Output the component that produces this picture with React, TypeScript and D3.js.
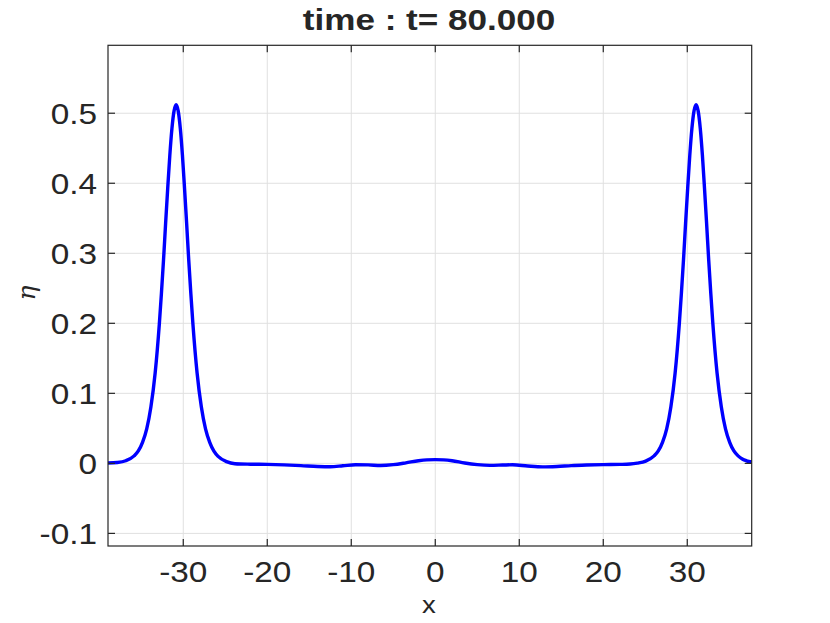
import React from "react";
import * as d3 from "d3";

const xTicks = [-30, -20, -10, 0, 10, 20, 30];
const yTicks = [-0.1, 0, 0.1, 0.2, 0.3, 0.4, 0.5];
const yTickLabels = ["-0.1", "0", "0.1", "0.2", "0.3", "0.4", "0.5"];
const xDomain = [-38.96, 37.67];
const yDomain = [-0.118, 0.597];

const xs = [
  -38.96, -37.85, -36.85, -35.85, -35.35, -34.85, -34.35, -33.85, -33.35, -32.85,
  -32.6, -32.35, -32.1, -31.85, -31.6, -31.35, -31.1, -30.85, -30.6, -30.35,
  -30.1, -29.85, -29.6, -29.35, -29.1, -28.85, -28.35, -27.85, -27.35, -26.85,
  -26.35, -25.85, -24.85, -23.85,
  -22, -20, -18, -16, -14, -12.5, -11, -9.5, -8, -6.5, -5, -3.5, -2, -1, 0, 1, 2,
  3.5, 5, 6.5, 8, 9.2, 11, 12.8, 14.5, 16.2, 18, 20, 22, 23.2,
  24.05, 25.05, 26.05, 26.55, 27.05, 27.55, 28.05, 28.55, 29.05, 29.3, 29.55,
  29.8, 30.05, 30.3, 30.55, 30.8, 31.05, 31.3, 31.55, 31.8, 32.05, 32.3, 32.55,
  32.8, 33.05, 33.55, 34.05, 34.55, 35.05, 35.55, 36.05, 36.55, 37.05, 37.67,
];
const eta = [
  0.0006, 0.0013, 0.0037, 0.0107, 0.0178, 0.0301, 0.0494, 0.0809, 0.1287, 0.199,
  0.2426, 0.2905, 0.343, 0.393, 0.44, 0.478, 0.503, 0.512, 0.503, 0.478,
  0.44, 0.393, 0.343, 0.2905, 0.2426, 0.199, 0.1287, 0.0809, 0.0494, 0.0301,
  0.0175, 0.01, 0.0025, -0.0005,
  -0.0012, -0.0015, -0.0022, -0.0032, -0.0044, -0.0048, -0.0035, -0.002, -0.0022,
  -0.003, -0.0018, 0.0008, 0.0038, 0.005, 0.0053, 0.005, 0.0038,
  0.0005, -0.0018, -0.0028, -0.0024, -0.002, -0.0038, -0.005, -0.0044, -0.0032,
  -0.0024, -0.0018, -0.0015, -0.001,
  0.0003, 0.0032, 0.0107, 0.0178, 0.0301, 0.0494, 0.0809, 0.1287, 0.199, 0.2426,
  0.2905, 0.343, 0.393, 0.44, 0.478, 0.503, 0.512, 0.503, 0.478, 0.44, 0.393,
  0.343, 0.2905, 0.2426, 0.199, 0.1287, 0.0809, 0.0494, 0.0301, 0.0178, 0.0107,
  0.0062, 0.0037, 0.0019,
];

const W = 830;
const H = 623;
const L = 108;
const R = 751.7;
const T = 45.3;
const B = 546;
const axisColor = "#262626";
const gridColor = "#e0e0e0";
const font = "'Liberation Sans', Arial, Helvetica, sans-serif";

export default function App() {
  const x = d3.scaleLinear().domain(xDomain).range([L, R]);
  const y = d3.scaleLinear().domain(yDomain).range([B, T]);
  const pts: [number, number][] = xs.map((v, i) => [v, eta[i]]);
  const line = d3
    .line<[number, number]>()
    .x((d) => x(d[0]))
    .y((d) => y(d[1]))
    .curve(d3.curveMonotoneX);
  const tickLen = 7;

  const Txt = ({ tx, ty, anchor, size, weight, children, sx }: any) => (
    <g transform={`translate(${tx},${ty}) scale(${sx || 1.15},1)`}>
      <text
        textAnchor={anchor}
        fontSize={size}
        fontWeight={weight || "normal"}
        fontFamily={font}
        fill={axisColor}
      >
        {children}
      </text>
    </g>
  );

  return (
    <svg
      width={W}
      height={H}
      style={{ position: "absolute", left: 0, top: 0, background: "#fff" }}
    >
      <rect x={0} y={0} width={W} height={H} fill="#fff" />
      {xTicks.map((t) => (
        <line key={"gx" + t} x1={x(t)} x2={x(t)} y1={T} y2={B} stroke={gridColor} strokeWidth={1} />
      ))}
      {yTicks.map((t) => (
        <line key={"gy" + t} x1={L} x2={R} y1={y(t)} y2={y(t)} stroke={gridColor} strokeWidth={1} />
      ))}
      <path d={line(pts) || ""} fill="none" stroke="#0000ff" strokeWidth={3.4} strokeLinejoin="round" />
      <rect x={L} y={T} width={R - L} height={B - T} fill="none" stroke={axisColor} strokeWidth={1.2} />
      {xTicks.map((t) => (
        <g key={"tx" + t}>
          <line x1={x(t)} x2={x(t)} y1={B} y2={B - tickLen} stroke={axisColor} strokeWidth={1.2} />
          <line x1={x(t)} x2={x(t)} y1={T} y2={T + tickLen} stroke={axisColor} strokeWidth={1.2} />
        </g>
      ))}
      {yTicks.map((t) => (
        <g key={"ty" + t}>
          <line x1={L} x2={L + tickLen} y1={y(t)} y2={y(t)} stroke={axisColor} strokeWidth={1.2} />
          <line x1={R} x2={R - tickLen} y1={y(t)} y2={y(t)} stroke={axisColor} strokeWidth={1.2} />
        </g>
      ))}
      {xTicks.map((t) => (
        <Txt key={"lx" + t} tx={x(t)} ty={582} anchor="middle" size={29}>
          {String(t)}
        </Txt>
      ))}
      {yTicks.map((t, i) => (
        <Txt key={"ly" + t} tx={97} ty={y(t) + 10.5} anchor="end" size={29}>
          {yTickLabels[i]}
        </Txt>
      ))}
      <Txt tx={429} ty={30} anchor="middle" size={30} weight="bold" sx={1.17}>
        time : t= 80.000
      </Txt>
      <Txt tx={429} ty={613} anchor="middle" size={24}>
        x
      </Txt>
      <g transform="translate(35,293) rotate(-90)">
        <text
          textAnchor="middle"
          fontSize={25}
          fontStyle="italic"
          fontFamily="'DejaVu Serif', 'Liberation Serif', serif"
          fill={axisColor}
        >
          η
        </text>
      </g>
    </svg>
  );
}
